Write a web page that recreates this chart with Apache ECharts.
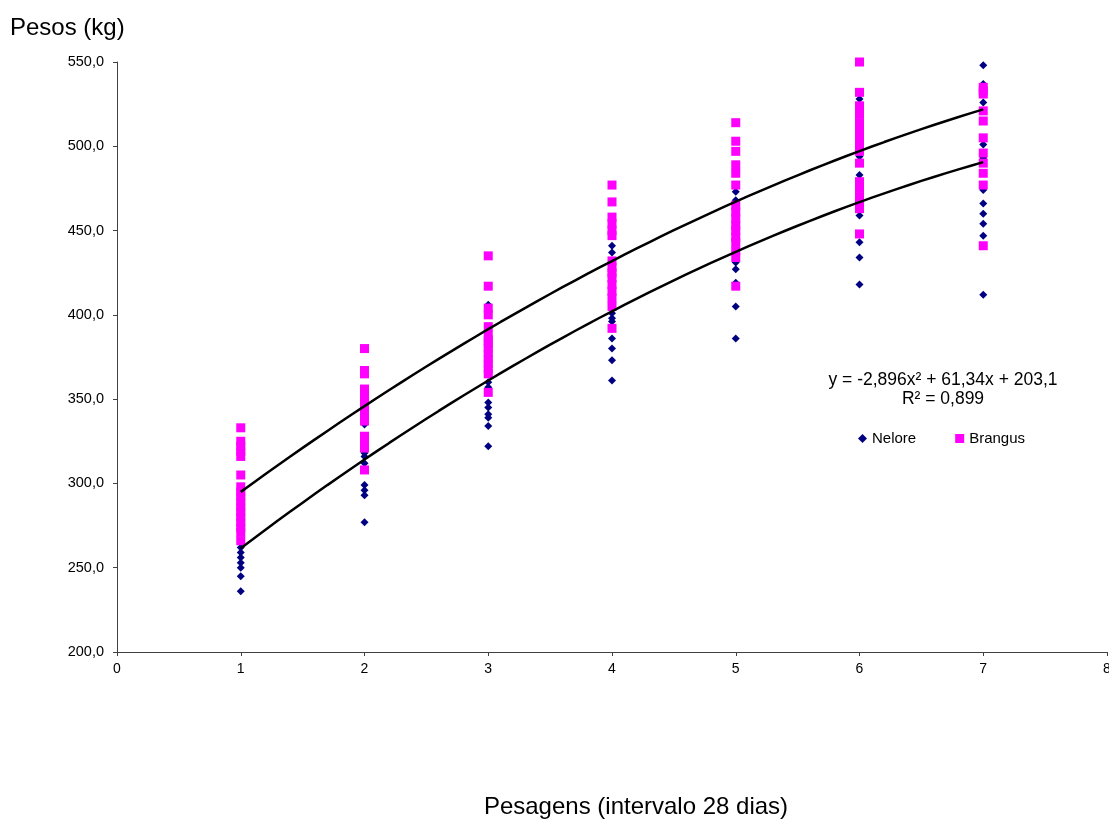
<!DOCTYPE html>
<html><head><meta charset="utf-8">
<script src="https://cdn.jsdelivr.net/npm/echarts@6/dist/echarts.min.js"></script>
<style>html,body{margin:0;padding:0;background:#fff;overflow:hidden}#c{width:1109px;height:820px}</style>
</head><body><div id="c"></div>
<script>
const xTicks = [0,1,2,3,4,5,6,7,8];
const yTicks = [200,250,300,350,400,450,500,550];
const neloreX = [
 1,1,1,1,1,1,1,
 2,2,2,2,2,2,2,2,
 3,3,3,3,3,3,3,3,3,
 4,4,4,4,4,4,4,4,4,4,
 5,5,5,5,5,5,5,5,5,
 6,6,6,6,6,6,6,6,6,6,
 7,7,7,7,7,7,7,7,7,7,7
];
const neloreY = [
 262,259,256,253,250,245,236,
 335,318,316,312,299,296,293,277,
 406,360,357,348,345,341,339,334,322,
 441,437,423,401,398,396,386,380,373,361,
 473,468,452,431,427,419,405,386,436,
 528,520,494,483,470,459,443,434,418,506,
 548,537,526,501,493,474,466,460,454,447,412
];
const brangusX = [
 1,1,1,1,1,1,1,1,1,1,1,1,1,1,1,1,1,
 2,2,2,2,2,2,2,2,2,2,2,2,2,2,2,2,
 3,3,3,3,3,3,3,3,3,3,3,3,3,3,3,
 4,4,4,4,4,4,4,4,4,4,4,4,4,4,4,
 5,5,5,5,5,5,5,5,5,5,5,5,5,5,5,5,
 6,6,6,6,6,6,6,6,6,6,6,6,6,6,6,6,6,
 7,7,7,7,7,7,7,7,7,7,7
];
const brangusY = [
 333,325,322,319,316,305,298,295,292,289,286,283,280,277,274,271,266,
 380,367,365,356,353,350,348,345,342,339,337,328,326,323,321,308,
 435,417,404,400,393,388,385,383,380,377,374,371,368,365,354,
 477,467,458,454,450,447,432,428,425,422,418,414,410,405,392,
 514,503,497,489,484,477,465,461,457,453,450,446,443,438,434,417,
 550,532,524,519,514,511,507,503,499,497,490,479,475,470,466,463,448,
 535,531,521,515,505,496,490,484,477,441,533
];
// trendline coefficients [a, b, c] for y = a x^2 + b x + c
const trendNelore = [-2.896, 61.34, 203.1];
const trendBrangus = [-2.61, 58.7, 238.9];
const trendRange = [1, 7];

function pts(xs, ys){ return xs.map((x,i)=>[x, ys[i]]); }
function curve(c){
  const out=[];
  for(let k=0;k<=60;k++){
    const x = trendRange[0] + (trendRange[1]-trendRange[0])*k/60;
    out.push([x, c[0]*x*x + c[1]*x + c[2]]);
  }
  return out;
}
const fam = 'Liberation Sans, Arial, sans-serif';
const chart = echarts.init(document.getElementById('c'));
chart.setOption({
  animation:false,
  backgroundColor:'#fff',
  grid:{left:117, right:2, top:62, bottom:168, containLabel:false, outerBoundsMode:'none'},
  xAxis:{type:'value', min:0, max:8, interval:1,
    axisLine:{show:true, lineStyle:{color:'#404040', width:1}},
    axisTick:{show:true, length:4, lineStyle:{color:'#404040'}},
    axisLabel:{color:'#000', fontFamily:fam, fontSize:14, margin:10},
    splitLine:{show:false}
  },
  yAxis:{type:'value', min:200, max:550, interval:50,
    axisLine:{show:true, lineStyle:{color:'#404040', width:1}},
    axisTick:{show:true, length:4, lineStyle:{color:'#404040'}},
    axisLabel:{color:'#000', fontFamily:fam, fontSize:14.5, margin:13,
      formatter:v=>v.toFixed(1).replace('.',',')},
    splitLine:{show:false}
  },
  legend:{left:853, top:426, itemGap:39, itemWidth:9, itemHeight:9,
    textStyle:{color:'#000', fontFamily:fam, fontSize:15, padding:[0,0,0,0]},
    data:[{name:'Nelore', icon:'diamond'},{name:'Brangus', icon:'rect'}]
  },
  graphic:[
    {type:'text', left:10, top:16, style:{text:'Pesos (kg)', font:'24px '+fam, fill:'#000'}},
    {type:'text', x:636, y:807, style:{text:'Pesagens (intervalo 28 dias)', font:'24px '+fam, fill:'#000', align:'center', verticalAlign:'middle'}},
    {type:'text', x:943, y:380, style:{text:'y = -2,896x² + 61,34x + 203,1', font:'17.5px '+fam, fill:'#000', align:'center', verticalAlign:'middle'}},
    {type:'text', x:943, y:399, style:{text:'R² = 0,899', font:'17.5px '+fam, fill:'#000', align:'center', verticalAlign:'middle'}}
  ],
  series:[
    {name:'Nelore', type:'scatter', symbol:'diamond', symbolSize:8,
      itemStyle:{color:'#000080', opacity:1}, data:pts(neloreX, neloreY), z:2},
    {name:'Brangus', type:'scatter', symbol:'rect', symbolSize:9,
      itemStyle:{color:'#FF00FF', opacity:1}, data:pts(brangusX, brangusY), z:3},
    {name:'trendN', type:'line', data:curve(trendNelore), showSymbol:false, smooth:false,
      lineStyle:{color:'#000', width:2.5}, z:4, silent:true},
    {name:'trendB', type:'line', data:curve(trendBrangus), showSymbol:false, smooth:false,
      lineStyle:{color:'#000', width:2.5}, z:4, silent:true}
  ]
});
</script></body></html>
